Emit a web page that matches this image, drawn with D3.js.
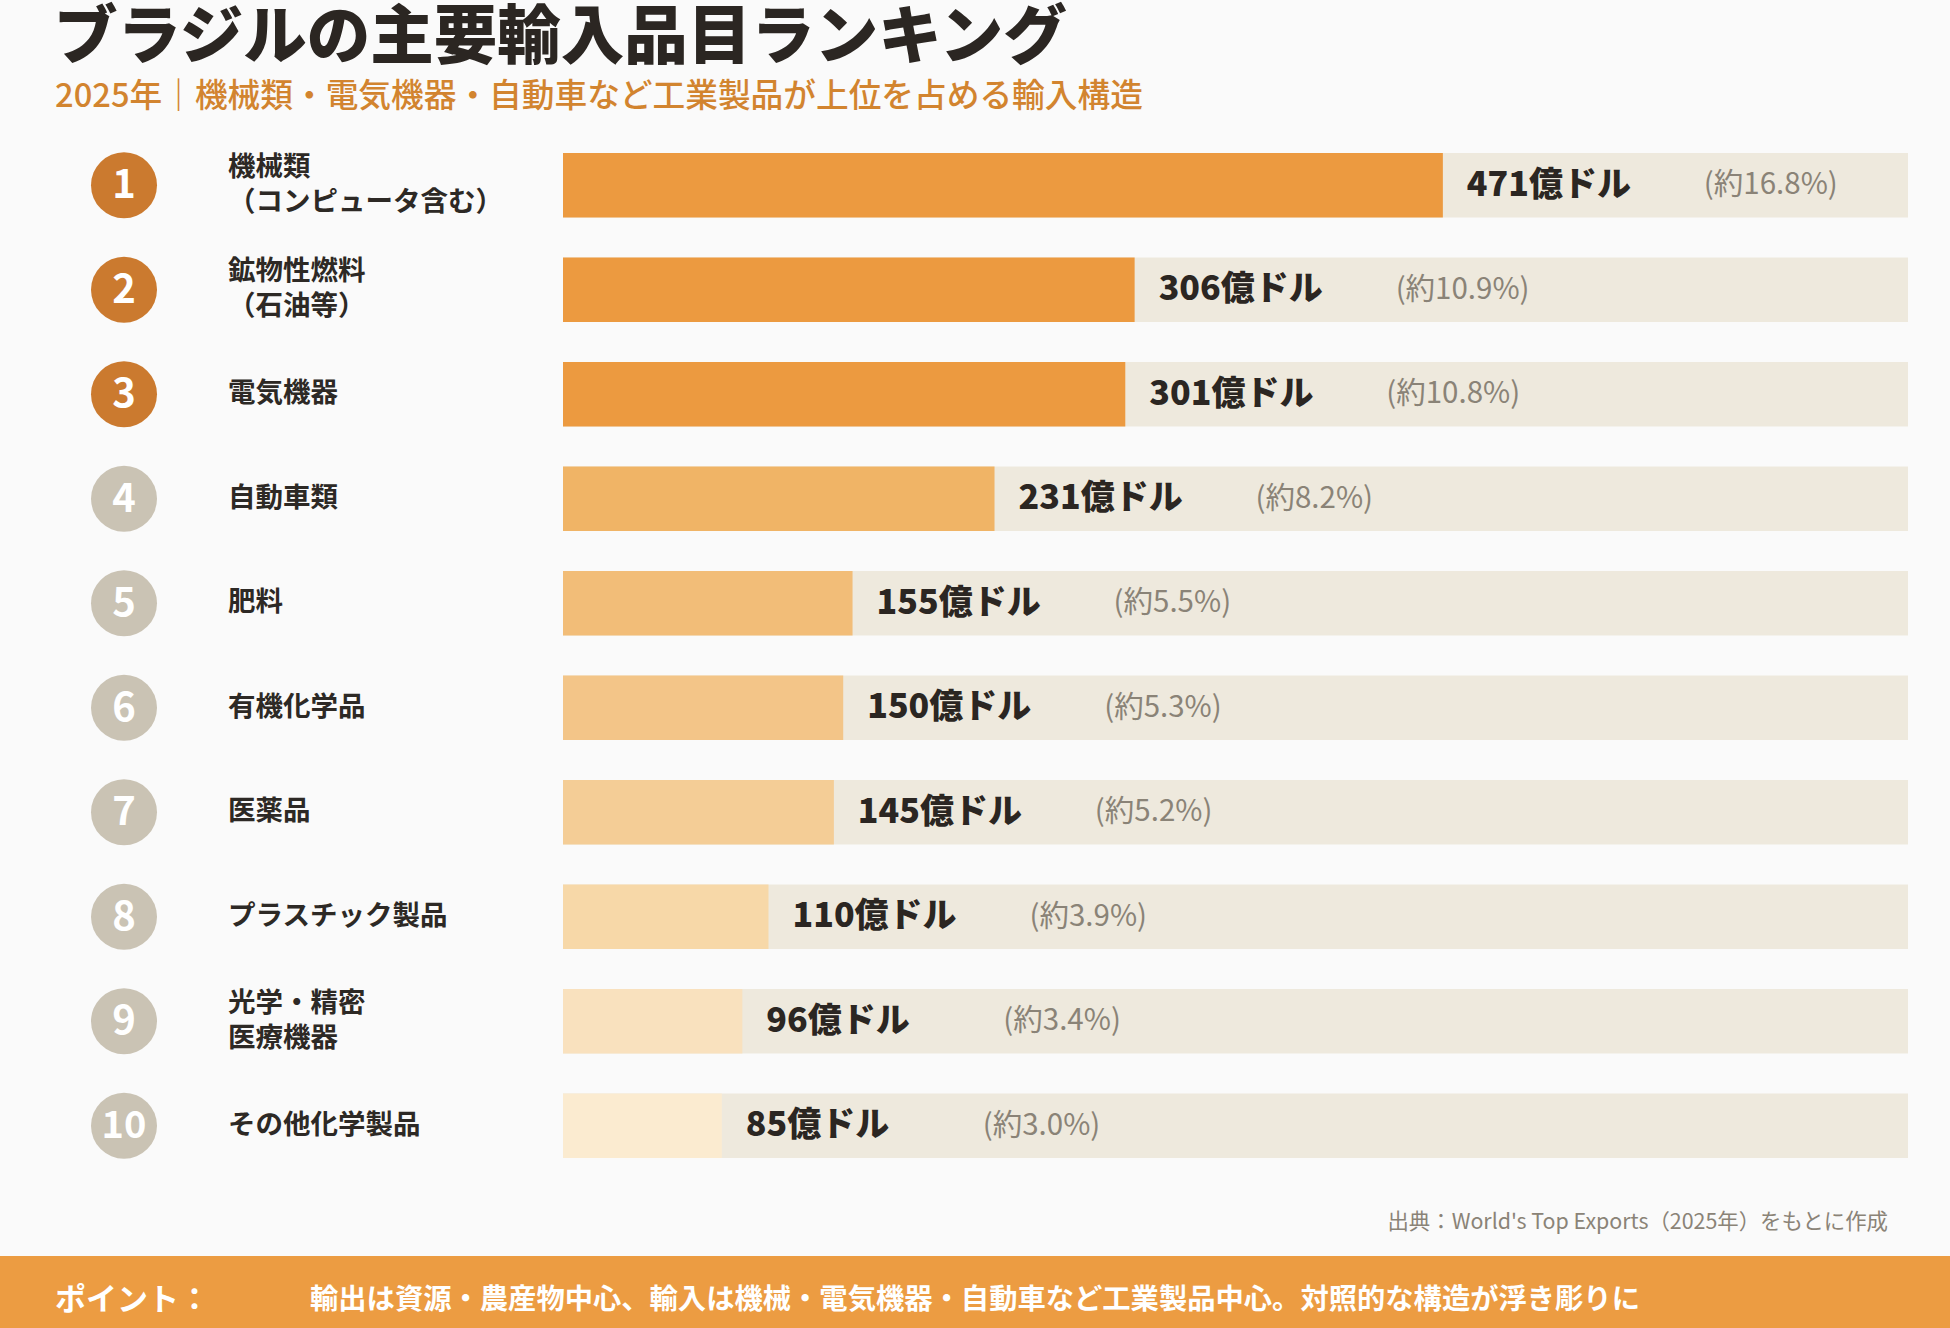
<!DOCTYPE html>
<html>
<head>
<meta charset="utf-8">
<script src="https://cdn.jsdelivr.net/npm/d3@7"></script>
<style>
  html, body { margin: 0; padding: 0; background: #fafafa; }
  svg { display: block; font-family: "Noto Sans CJK JP", "Noto Sans", sans-serif; }
</style>
</head>
<body>
<svg id="chart" width="1950" height="1328"></svg>
<script>
const title = "ブラジルの主要輸入品目ランキング";
const subtitle = "2025年｜機械類・電気機器・自動車など工業製品が上位を占める輸入構造";
const ranks = [1, 2, 3, 4, 5, 6, 7, 8, 9, 10];
const categories = [
  ["機械類", "（コンピュータ含む）"],
  ["鉱物性燃料", "（石油等）"],
  ["電気機器"],
  ["自動車類"],
  ["肥料"],
  ["有機化学品"],
  ["医薬品"],
  ["プラスチック製品"],
  ["光学・精密", "医療機器"],
  ["その他化学製品"]
];
const values = [471, 306, 301, 231, 155, 150, 145, 110, 96, 85];
const shares = ["16.8", "10.9", "10.8", "8.2", "5.5", "5.3", "5.2", "3.9", "3.4", "3.0"];
const barColors = ["#ec9a40", "#ec9a40", "#ec9a40", "#f0b466", "#f2bd78", "#f3c588", "#f4cd96", "#f7d8a8", "#f9e1be", "#fbebd0"];
const badgeColors = ["#cb7a2f", "#cb7a2f", "#cb7a2f", "#cac3b4", "#cac3b4", "#cac3b4", "#cac3b4", "#cac3b4", "#cac3b4", "#cac3b4"];
const sourceText = "出典：World's Top Exports（2025年）をもとに作成";
const pointLabel = "ポイント：";
const pointText = "輸出は資源・農産物中心、輸入は機械・電気機器・自動車など工業製品中心。対照的な構造が浮き彫りに";

const rows = ranks.map((r, i) => ({
  rank: r, label: categories[i], value: values[i], share: shares[i],
  color: barColors[i], badge: badgeColors[i]
}));

const svg = d3.select("#chart");
svg.append("rect").attr("width", 1950).attr("height", 1328).attr("fill", "#fafafa");

const x = d3.scaleLinear().domain([0, 720]).range([563, 1908]);
const y = d3.scaleBand().domain(ranks).range([153, 1158]).paddingInner(0.3828).paddingOuter(0);
const off = -4; // optical baseline correction

// Title
svg.append("text").attr("x", 54).attr("y", 34 + off)
  .attr("dominant-baseline", "central")
  .attr("font-size", 63.5).attr("font-weight", 900).attr("fill", "#2b2622")
  .text(title);
svg.append("text").attr("x", 55).attr("y", 96 + off)
  .attr("dominant-baseline", "central")
  .attr("font-size", 32.7).attr("font-weight", 500).attr("fill", "#d2842f")
  .text(subtitle);

const g = svg.append("g");
const row = g.selectAll("g.row").data(rows).join("g").attr("class", "row");

// Track
row.append("rect")
  .attr("x", x(0)).attr("y", d => y(d.rank))
  .attr("width", x.range()[1] - x(0)).attr("height", y.bandwidth())
  .attr("fill", "#eee9dd");
// Bar
row.append("rect")
  .attr("x", x(0)).attr("y", d => y(d.rank))
  .attr("width", d => x(d.value) - x(0)).attr("height", y.bandwidth())
  .attr("fill", d => d.color);

const cy = d => y(d.rank) + y.bandwidth() / 2;

// Badge
row.append("circle").attr("cx", 124).attr("cy", cy).attr("r", 33).attr("fill", d => d.badge);
row.append("text").attr("x", 124).attr("y", d => cy(d) + off)
  .attr("text-anchor", "middle").attr("dominant-baseline", "central")
  .attr("font-size", d => d.rank >= 10 ? 38 : 40).attr("font-weight", 700).attr("fill", "#ffffff")
  .text(d => d.rank);

// Category labels
row.each(function(d) {
  const t = d3.select(this).append("text")
    .attr("font-size", 27.5).attr("font-weight", 700).attr("fill", "#2d2925");
  const n = d.label.length;
  d.label.forEach((line, j) => {
    t.append("tspan").attr("x", 228)
      .attr("y", cy(d) + off + (j - (n - 1) / 2) * 35)
      .attr("dominant-baseline", "central")
      .text(line);
  });
});

// Value labels
row.append("text").attr("x", d => x(d.value) + 24).attr("y", d => cy(d) + off)
  .attr("dominant-baseline", "central")
  .attr("font-size", 34).attr("font-weight", 900).attr("fill", "#2b2622")
  .text(d => d.value + "億ドル");
row.append("text").attr("x", d => x(d.value) + 261).attr("y", d => cy(d) + off)
  .attr("dominant-baseline", "central")
  .attr("font-size", 29.5).attr("font-weight", 400).attr("fill", "#8a8377")
  .text(d => "(約" + d.share + "%)");

// Source
svg.append("text").attr("x", 1888).attr("y", 1223 + off)
  .attr("text-anchor", "end").attr("dominant-baseline", "central")
  .attr("font-size", 21.4).attr("fill", "#8a8377")
  .text(sourceText);

// Footer band
svg.append("rect").attr("x", 0).attr("y", 1256).attr("width", 1950).attr("height", 72).attr("fill", "#ec9c42");
svg.append("text").attr("x", 55).attr("y", 1300 + off)
  .attr("dominant-baseline", "central")
  .attr("font-size", 31).attr("font-weight", 700).attr("fill", "#ffffff")
  .text(pointLabel);
svg.append("text").attr("x", 310).attr("y", 1300 + off)
  .attr("dominant-baseline", "central")
  .attr("font-size", 28.3).attr("font-weight", 700).attr("fill", "#ffffff")
  .text(pointText);
</script>
</body>
</html>
